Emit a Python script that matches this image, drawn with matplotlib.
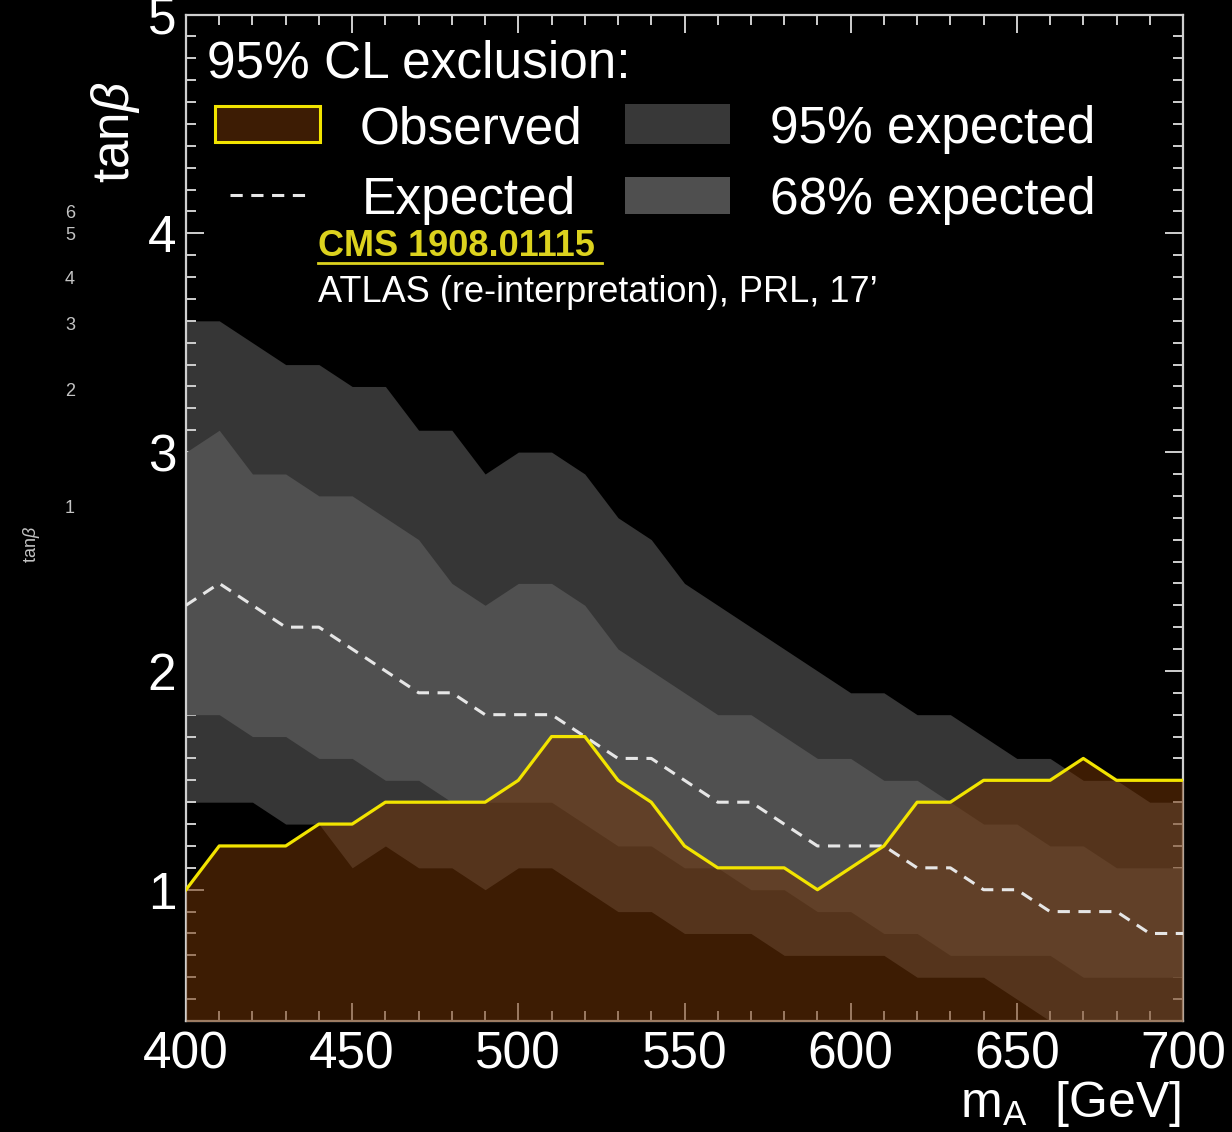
import matplotlib.pyplot as plt
from matplotlib.patches import Rectangle
from matplotlib.lines import Line2D
from matplotlib.ticker import MultipleLocator

# grid of mA points (GeV) and the tanb contours
mA = [400, 410, 420, 430, 440, 450, 460, 470, 480, 490, 500,
      510, 520, 530, 540, 550, 560, 570, 580, 590, 600,
      610, 620, 630, 640, 650, 660, 670, 680, 690, 700]
observed = [1.0, 1.2, 1.2, 1.2, 1.3, 1.3, 1.4, 1.4, 1.4, 1.4, 1.5,
            1.7, 1.7, 1.5, 1.4, 1.2, 1.1, 1.1, 1.1, 1.0, 1.1,
            1.2, 1.4, 1.4, 1.5, 1.5, 1.5, 1.6, 1.5, 1.5, 1.5]
expected = [2.3, 2.4, 2.3, 2.2, 2.2, 2.1, 2.0, 1.9, 1.9, 1.8, 1.8,
            1.8, 1.7, 1.6, 1.6, 1.5, 1.4, 1.4, 1.3, 1.2, 1.2,
            1.2, 1.1, 1.1, 1.0, 1.0, 0.9, 0.9, 0.9, 0.8, 0.8]
up95 = [3.6, 3.6, 3.5, 3.4, 3.4, 3.3, 3.3, 3.1, 3.1, 2.9, 3.0,
        3.0, 2.9, 2.7, 2.6, 2.4, 2.3, 2.2, 2.1, 2.0, 1.9,
        1.9, 1.8, 1.8, 1.7, 1.6, 1.6, 1.5, 1.5, 1.4, 1.4]
lo95 = [1.4, 1.4, 1.4, 1.3, 1.3, 1.1, 1.2, 1.1, 1.1, 1.0, 1.1,
        1.1, 1.0, 0.9, 0.9, 0.8, 0.8, 0.8, 0.7, 0.7, 0.7,
        0.7, 0.6, 0.6, 0.6, 0.5, 0.4, 0.3, 0.3, 0.3, 0.3]
up68 = [3.0, 3.1, 2.9, 2.9, 2.8, 2.8, 2.7, 2.6, 2.4, 2.3, 2.4,
        2.4, 2.3, 2.1, 2.0, 1.9, 1.8, 1.8, 1.7, 1.6, 1.6,
        1.5, 1.5, 1.4, 1.3, 1.3, 1.2, 1.2, 1.1, 1.1, 1.1]
lo68 = [1.8, 1.8, 1.7, 1.7, 1.6, 1.6, 1.5, 1.5, 1.4, 1.4, 1.4,
        1.4, 1.3, 1.2, 1.2, 1.1, 1.1, 1.0, 1.0, 0.9, 0.9,
        0.8, 0.8, 0.7, 0.7, 0.7, 0.7, 0.6, 0.6, 0.6, 0.6]

W, H = 1232, 1132
plt.rcParams['font.family'] = ['Liberation Sans', 'DejaVu Sans']
plt.rcParams['mathtext.fontset'] = 'custom'
plt.rcParams['mathtext.rm'] = 'Liberation Sans'
plt.rcParams['mathtext.it'] = 'Liberation Sans:italic'

def fx(px):
    return px / W

def fy(py):
    return 1 - py / H

fig = plt.figure(figsize=(W / 100, H / 100), dpi=100, facecolor="black")
ax = fig.add_axes([fx(186), fy(1021), fx(1183) - fx(186), fy(14.5) - fy(1021)])
ax.set_facecolor("black")

ax.fill_between(mA, lo95, up95, color="#363636", lw=0, zorder=1)
ax.fill_between(mA, lo68, up68, color="#505050", lw=0, zorder=2)
ax.fill_between(mA, 0, observed, color="#713407", alpha=0.54, lw=0, zorder=3)
ax.plot(mA, expected, color="#e6e6e6", lw=2.2, dashes=(4, 2.8), zorder=4)
ax.plot(mA, observed, color="#f2e400", lw=2.3, zorder=5)

ax.set_xlim(400, 700)
ax.set_ylim(0.4, 5)
ax.xaxis.set_major_locator(MultipleLocator(50))
ax.xaxis.set_minor_locator(MultipleLocator(10))
ax.yaxis.set_major_locator(MultipleLocator(1))
ax.yaxis.set_minor_locator(MultipleLocator(0.1))
ax.tick_params(which="both", direction="in", top=True, right=True,
               color="#cfcfcf", width=1.4, labelcolor="white", labelsize=37)
ax.tick_params(which="major", length=13, pad=7)
ax.tick_params(which="minor", length=7)
for s in ax.spines.values():
    s.set_color("#cfcfcf")
    s.set_linewidth(1.6)

# axis titles, ROOT style
fig.text(fx(1181), fy(1104), r"m$_{\mathrm{A}}$  [GeV]", color="white", fontsize=36,
         ha="right", va="center")
fig.text(fx(116), fy(132), r"tan$\beta$", color="white", fontsize=37,
         rotation=90, ha="center", va="center")

# legend drawn by hand
fig.text(fx(207), fy(78), "95% CL exclusion:", color="white", fontsize=37, va="baseline")
fig.patches.append(Rectangle((fx(215), fy(142)), fx(320) - fx(215), fy(106) - fy(142),
                             transform=fig.transFigure, facecolor="#3d1c04",
                             edgecolor="#f2e400", lw=2.2))
fig.text(fx(360), fy(143), "Observed", color="white", fontsize=37, va="baseline")
fig.lines.append(Line2D([fx(230), fx(306)], [fy(195), fy(195)], transform=fig.transFigure,
                        color="#e6e6e6", lw=2.2, dashes=(4, 2.8)))
fig.text(fx(362), fy(214), "Expected", color="white", fontsize=37, va="baseline")
fig.patches.append(Rectangle((fx(625), fy(144)), fx(730) - fx(625), fy(104) - fy(144),
                             transform=fig.transFigure, facecolor="#383838", lw=0))
fig.text(fx(770), fy(143), "95% expected", color="white", fontsize=37, va="baseline")
fig.patches.append(Rectangle((fx(625), fy(214)), fx(730) - fx(625), fy(177) - fy(214),
                             transform=fig.transFigure, facecolor="#4f4f4f", lw=0))
fig.text(fx(770), fy(214), "68% expected", color="white", fontsize=37, va="baseline")

# reference notes
fig.text(fx(318), fy(256), "CMS 1908.01115", color="#dcd21e", fontsize=26,
         fontweight="bold", va="baseline")
fig.lines.append(Line2D([fx(318), fx(602)], [fy(263), fy(263)], transform=fig.transFigure,
                        color="#dcd21e", lw=2))
fig.text(fx(318), fy(302), "ATLAS (re-interpretation), PRL, 17\u2019", color="white",
         fontsize=26, va="baseline")

# leftover small labels on the left margin
for lab, py in [("6", 213), ("5", 236), ("4", 280), ("3", 326), ("2", 392), ("1", 508)]:
    fig.text(fx(70), fy(py), lab, color="#c4c4c4", fontsize=13, ha="center", va="center")
fig.text(fx(32), fy(545), r"tan$\beta$", color="#c4c4c4", fontsize=13, rotation=90,
         ha="center", va="center")

fig.savefig("out.png", dpi=100, facecolor="black")
